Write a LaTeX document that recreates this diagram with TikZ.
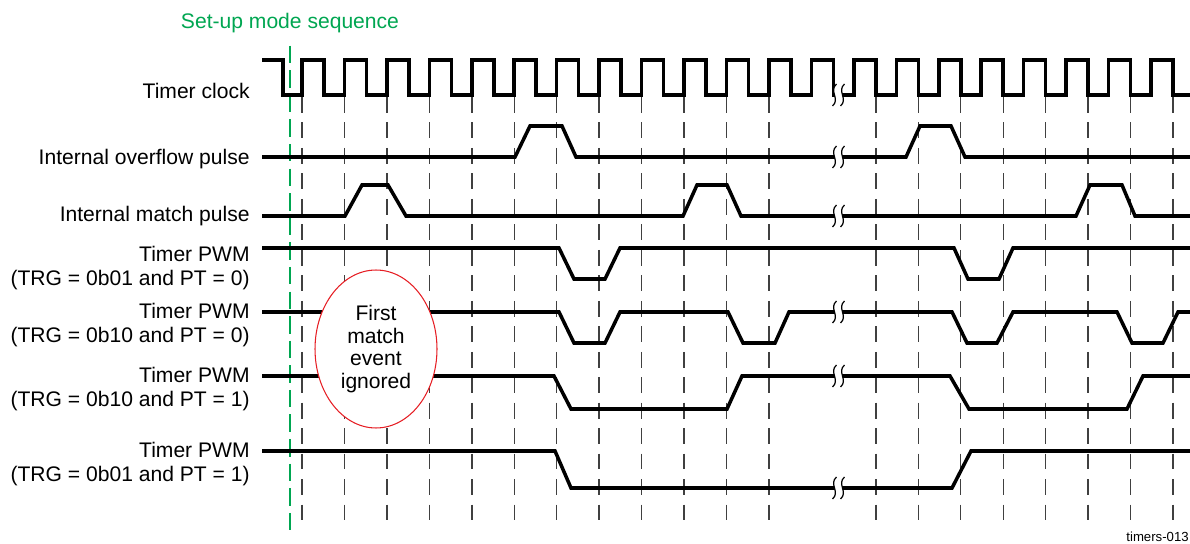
\documentclass[tikz,border=0pt]{standalone}
\usepackage{fontspec}
\setmainfont{Liberation Sans}
\usetikzlibrary{shapes.geometric}
\definecolor{setupgreen}{RGB}{0,166,81}
\definecolor{notered}{RGB}{230,30,36}

\begin{document}
\begin{tikzpicture}[
  x=0.02cm,y=-0.02cm,
  font=\fontsize{12}{14}\selectfont,
  lbl/.style={anchor=east,align=right,inner sep=0pt},
  wave/.style={line width=2pt},
  tick/.style={draw=black!75,line width=0.8pt,dash pattern=on 9pt off 5.5pt},
  setupline/.style={draw=setupgreen,line width=1.4pt,dash pattern=on 10pt off 4pt},
  brk/.style={line width=0.7pt},
  ignore/.style={ellipse,draw=notered,fill=white,line width=0.6pt,minimum width=2.44cm,minimum height=3.16cm,inner sep=0pt,align=center,font=\fontsize{12}{12.8}\selectfont},
]
  \useasboundingbox (0,0) rectangle (1190,544);

  \foreach \k in {0,...,11} \draw[tick] ({302+42.45*\k},97) -- ({302+42.45*\k},528);
  \foreach \k in {13,...,20} \draw[tick] ({324+42.45*\k},97) -- ({324+42.45*\k},528);

  \node[text=setupgreen] (setup) at (290,23.5) {Set-up mode sequence};
  \draw[setupline] (setup.south) ++(0,6) -- ++(0,490);

  \draw[wave] (262,60) -- (283,60) -- (283,95) -- (302,95)
    \foreach \k in {1,...,20} { -- ++(0,-35) -- ++(22,0) -- ++(0,35) -- ++(20.45,0) }
    -- ++(0,-35) -- ++(22,0) -- ++(0,35) -- (1190,95);
  \draw[wave] (262,157) -- (515,157) -- (530,126) -- (562,126) -- (576,157) -- (906,157) -- (920,126) -- (951,126) -- (965,157) -- (1190,157);
  \draw[wave] (262,216) -- (345,216) -- (362,185) -- (388,185) -- (406,216) -- (683,216) -- (697,185) -- (727,185) -- (741,216)
    -- (1076,216) -- (1090,185) -- (1122,185) -- (1135,216) -- (1190,216);
  \draw[wave] (262,248) -- (559,248) -- (574,279) -- (605,279) -- (620,248) -- (954,248) -- (968,279) -- (999,279) -- (1013,248) -- (1190,248);
  \draw[wave] (262,312) -- (559,312) -- (574,343) -- (605,343) -- (620,312) -- (728,312) -- (743,343) -- (775,343) -- (789,312)
    -- (952,312) -- (967,343) -- (997,343) -- (1013,312) -- (1117,312) -- (1132,343) -- (1163,343) -- (1178,312) -- (1190,312);
  \draw[wave] (262,376) -- (554,376) -- (571,409) -- (727,409) -- (742,376) -- (950,376) -- (969,409) -- (1127,409) -- (1143,376) -- (1190,376);
  \draw[wave] (262,451) -- (555,451) -- (571,488) -- (952,488) -- (971,451) -- (1190,451);

  \foreach \yy in {95,157,216,312,376,488} {
    \fill[white] (836.5,\yy-11) .. controls (828.5,\yy-4) and (840.5,\yy+4) .. (832.5,\yy+11)
      -- (840.5,\yy+11) .. controls (848.5,\yy+4) and (836.5,\yy-4) .. (844.5,\yy-11) -- cycle;
    \draw[brk] (836.5,\yy-11) .. controls (828.5,\yy-4) and (840.5,\yy+4) .. (832.5,\yy+11);
    \draw[brk] (844.5,\yy-11) .. controls (836.5,\yy-4) and (848.5,\yy+4) .. (840.5,\yy+11);
  }

  \node[ignore] (first) at (376,349) {First\\match\\event\\ignored};

  \node[lbl] (clk) at (250,90.5) {Timer clock};
  \node[lbl] (ovf) at (250,159.5) {Internal overflow pulse};
  \node[lbl] (mat) at (250,216.5) {Internal match pulse};
  \node[lbl] (pwma) at (250,268) {Timer PWM\\(TRG = 0b01 and PT = 0)};
  \node[lbl] (pwmb) at (250,325) {Timer PWM\\(TRG = 0b10 and PT = 0)};
  \node[lbl] (pwmc) at (250,389) {Timer PWM\\(TRG = 0b10 and PT = 1)};
  \node[lbl] (pwmd) at (250,464) {Timer PWM\\(TRG = 0b01 and PT = 1)};

  \node[anchor=base east,inner sep=0pt,font=\fontsize{7.5}{9}\selectfont] (fig) at (1189,541) {timers-013};
\end{tikzpicture}
\end{document}
